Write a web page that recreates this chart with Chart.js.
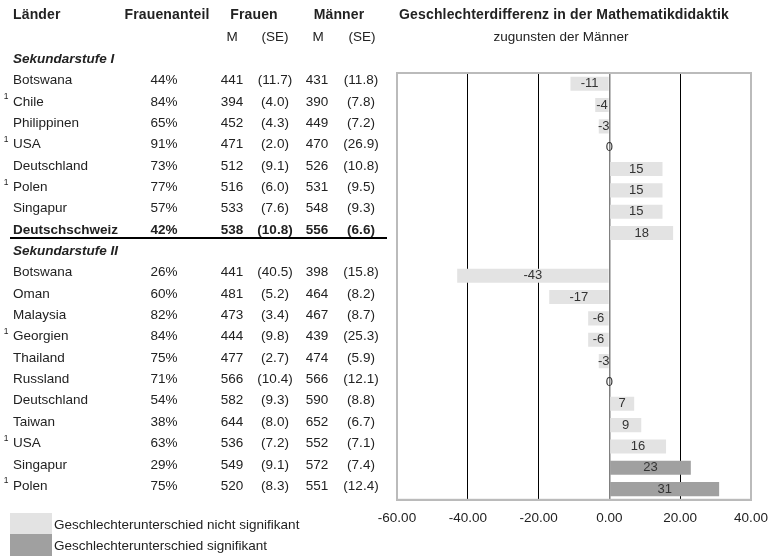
<!DOCTYPE html>
<html>
<head>
<meta charset="utf-8">
<script src="https://cdn.jsdelivr.net/npm/chart.js@4"></script>
<style>
  body { margin: 0; background: #fff; }
  #wrap { width: 770px; height: 556px; }
</style>
</head>
<body>
<div id="wrap"><canvas id="myChart" width="770" height="556"></canvas></div>
<script>
// Rows of the table; the empty row is the "Sekundarstufe II" header
var countries = ["Botswana", "Chile", "Philippinen", "USA", "Deutschland", "Polen", "Singapur", "Deutschschweiz", "",
  "Botswana", "Oman", "Malaysia", "Georgien", "Thailand", "Russland", "Deutschland", "Taiwan", "USA", "Singapur", "Polen"];
var footnote = [0, 1, 0, 1, 0, 1, 0, 0, 0, 0, 0, 0, 1, 0, 0, 0, 0, 1, 0, 1];
var womenShare = [44, 84, 65, 91, 73, 77, 57, 42, null, 26, 60, 82, 84, 75, 71, 54, 38, 63, 29, 75];
var womenM = [441, 394, 452, 471, 512, 516, 533, 538, null, 441, 481, 473, 444, 477, 566, 582, 644, 536, 549, 520];
var womenSE = [11.7, 4.0, 4.3, 2.0, 9.1, 6.0, 7.6, 10.8, null, 40.5, 5.2, 3.4, 9.8, 2.7, 10.4, 9.3, 8.0, 7.2, 9.1, 8.3];
var menM = [431, 390, 449, 470, 526, 531, 548, 556, null, 398, 464, 467, 439, 474, 566, 590, 652, 552, 572, 551];
var menSE = [11.8, 7.8, 7.2, 26.9, 10.8, 9.5, 9.3, 6.6, null, 15.8, 8.2, 8.7, 25.3, 5.9, 12.1, 8.8, 6.7, 7.1, 7.4, 12.4];
var diff = [-11, -4, -3, 0, 15, 15, 15, 18, null, -43, -17, -6, -6, -3, 0, 7, 9, 16, 23, 31];
var significant = [0, 0, 0, 0, 0, 0, 0, 0, 0, 0, 0, 0, 0, 0, 0, 0, 0, 0, 1, 1];
var xTicks = [-60, -40, -20, 0, 20, 40];

var lightGray = "#e3e3e3";
var darkGray = "#a0a0a0";
var FONT = "'Liberation Sans', Arial, sans-serif";

var barColors = significant.map(function (s) { return s ? darkGray : lightGray; });

// table, headings, legend and bar labels
var tablePlugin = {
  id: "table",
  afterDatasetsDraw: function (chart) {
    var ctx = chart.ctx;
    var y = chart.scales.y;
    var area = chart.chartArea;
    ctx.save();

    // frame around plot
    ctx.strokeStyle = "#bbbbbb";
    ctx.lineWidth = 2;
    ctx.strokeRect(area.left, area.top, area.right - area.left, area.bottom - area.top);

    // bar value labels
    ctx.font = "13px " + FONT;
    ctx.fillStyle = "#333";
    ctx.textAlign = "center";
    ctx.textBaseline = "middle";
    chart.getDatasetMeta(0).data.forEach(function (bar, i) {
      if (diff[i] === null) return;
      var p = bar.getProps(["x", "y", "base"], true);
      ctx.fillText(String(diff[i]), (p.x + p.base) / 2, p.y);
    });

    // headers
    ctx.fillStyle = "#222";
    ctx.font = "bold 14px " + FONT;
    ctx.letterSpacing = "0.15px";
    ctx.textAlign = "left";
    ctx.fillText("Länder", 13, 15);
    ctx.textAlign = "center";
    ctx.fillText("Frauenanteil", 167, 15);
    ctx.fillText("Frauen", 254, 15);
    ctx.fillText("Männer", 339, 15);
    ctx.fillText("Geschlechterdifferenz in der Mathematikdidaktik", 564, 15);
    ctx.letterSpacing = "0px";
    ctx.font = "13.5px " + FONT;
    ctx.fillText("M", 232, 37);
    ctx.fillText("(SE)", 275, 37);
    ctx.fillText("M", 318, 37);
    ctx.fillText("(SE)", 362, 37);
    ctx.fillText("zugunsten der Männer", 561, 37);

    // section headings
    ctx.font = "italic bold 13.5px " + FONT;
    ctx.textAlign = "left";
    ctx.fillText("Sekundarstufe I", 13, y.getPixelForValue(0) - 24);
    ctx.fillText("Sekundarstufe II", 13, y.getPixelForValue(8) - 3);

    // rows
    countries.forEach(function (name, i) {
      if (!name) return;
      var ry = y.getPixelForValue(i) - 3;
      var bold = name === "Deutschschweiz";
      ctx.font = (bold ? "bold " : "") + "13.5px " + FONT;
      ctx.textAlign = "left";
      ctx.fillText(name, 13, ry);
      ctx.textAlign = "center";
      ctx.fillText(womenShare[i] + "%", 164, ry);
      ctx.fillText(String(womenM[i]), 232, ry);
      ctx.fillText("(" + womenSE[i].toFixed(1) + ")", 275, ry);
      ctx.fillText(String(menM[i]), 317, ry);
      ctx.fillText("(" + menSE[i].toFixed(1) + ")", 361, ry);
      if (footnote[i]) {
        ctx.font = "8.5px " + FONT;
        ctx.fillText("1", 6, ry - 5);
      }
    });

    // rule below the Deutschschweiz row
    ctx.strokeStyle = "#000";
    ctx.lineWidth = 2;
    ctx.beginPath();
    ctx.moveTo(10, 238);
    ctx.lineTo(387, 238);
    ctx.stroke();

    // legend
    ctx.fillStyle = lightGray;
    ctx.fillRect(10, 513, 42, 21);
    ctx.fillStyle = darkGray;
    ctx.fillRect(10, 534, 42, 22);
    ctx.fillStyle = "#222";
    ctx.font = "13.5px " + FONT;
    ctx.textAlign = "left";
    ctx.fillText("Geschlechterunterschied nicht signifikant", 54, 525);
    ctx.fillText("Geschlechterunterschied signifikant", 54, 546);

    ctx.restore();
  }
};

new Chart("myChart", {
  type: "bar",
  data: {
    labels: countries,
    datasets: [{
      data: diff,
      backgroundColor: barColors,
      barPercentage: 0.66,
      categoryPercentage: 1
    }]
  },
  options: {
    indexAxis: "y",
    responsive: false,
    animation: false,
    layout: { padding: { left: 397, top: 73, right: 19, bottom: 20 } },
    plugins: {
      legend: { display: false },
      tooltip: { enabled: false }
    },
    scales: {
      x: {
        min: -60,
        max: 40,
        afterBuildTicks: function (axis) {
          axis.ticks = xTicks.map(function (v) { return { value: v }; });
        },
        // the end labels may hang over the frame; the layout padding covers them
        afterFit: function (axis) {
          axis.paddingLeft = 0;
          axis.paddingRight = 0;
        },
        border: { display: true, color: "#bbbbbb", width: 2 },
        grid: {
          drawTicks: false,
          color: function (c) {
            var v = c.tick ? c.tick.value : null;
            if (v === 0) return "#808080";
            if (v === -60 || v === 40) return "rgba(0,0,0,0)";
            return "#000";
          },
          lineWidth: function (c) {
            return c.tick && c.tick.value === 0 ? 1.5 : 1;
          }
        },
        ticks: {
          padding: 10,
          color: "#222",
          font: { family: FONT, size: 13.5 },
          callback: function (v) { return Number(v).toFixed(2); }
        }
      },
      y: {
        display: false
      }
    }
  },
  plugins: [tablePlugin]
});
</script>
</body>
</html>
